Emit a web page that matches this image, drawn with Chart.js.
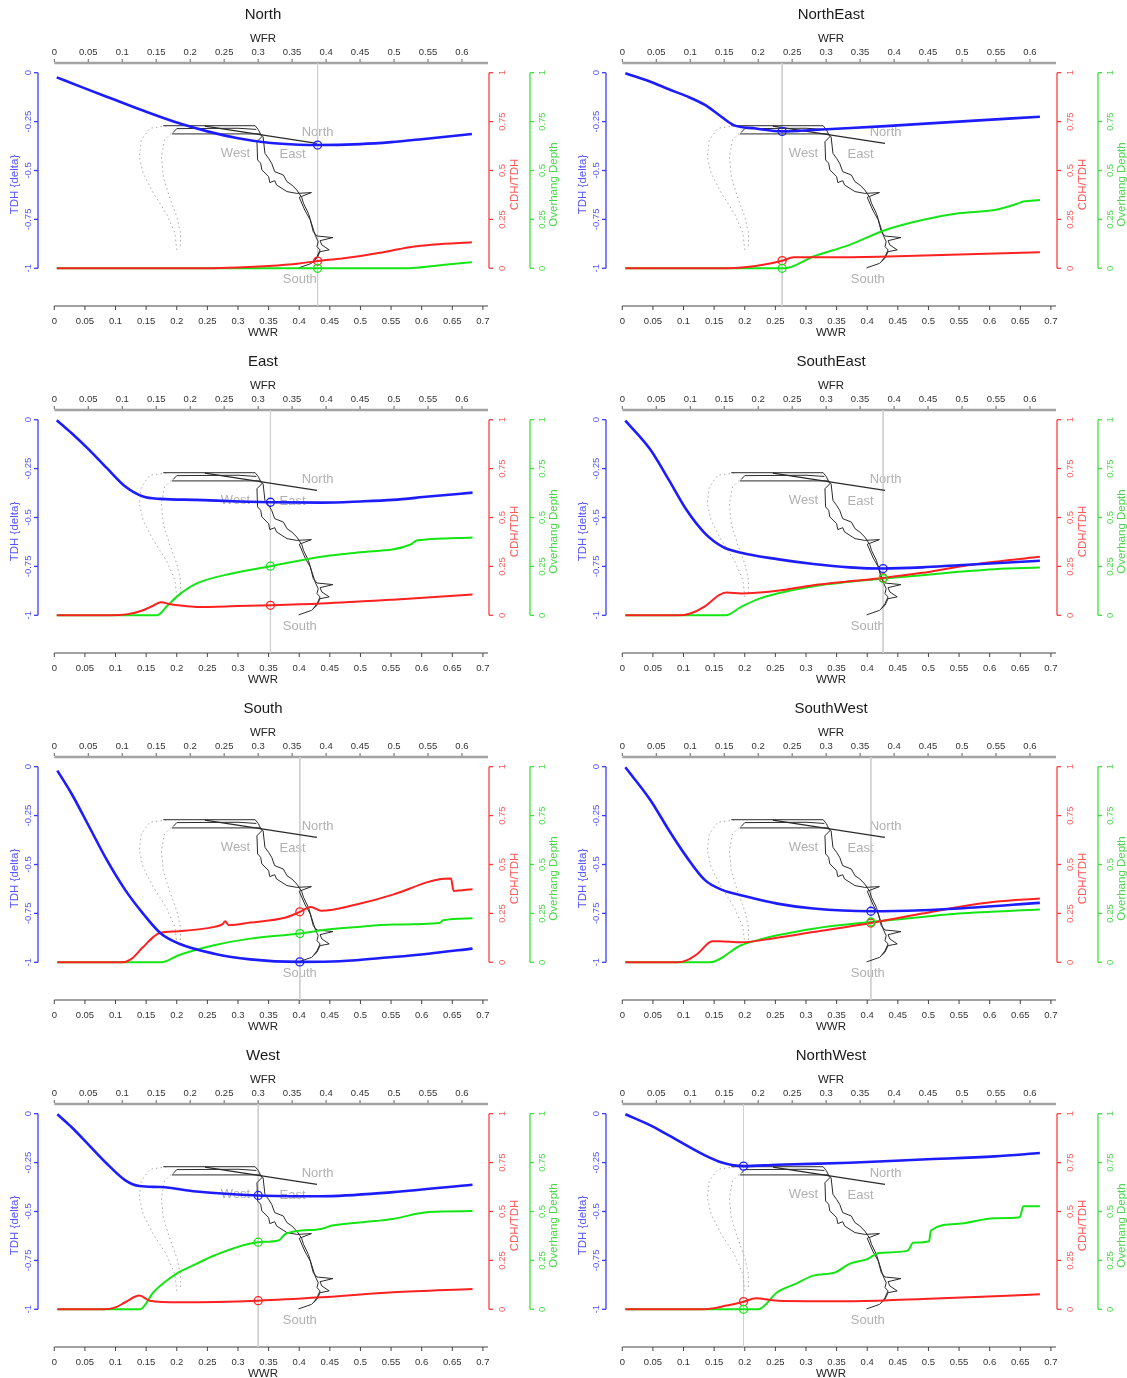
<!DOCTYPE html>
<html>
<head>
<meta charset="utf-8">
<script src="https://cdn.jsdelivr.net/npm/chart.js@4.4.0/dist/chart.umd.min.js"></script>
<style>
body { margin: 0; background: #fff; overflow: hidden; }
#wrap { position: relative; width: 1127px; height: 1378px; }
#wrap canvas { position: absolute; }
</style>
</head>
<body>
<div id="wrap"></div>
<script>
// tick values and labels
var wwrTicks = [0, 0.05, 0.1, 0.15, 0.2, 0.25, 0.3, 0.35, 0.4, 0.45, 0.5, 0.55, 0.6, 0.65, 0.7];
var wwrLabels = ['0', '0.05', '0.1', '0.15', '0.2', '0.25', '0.3', '0.35', '0.4', '0.45', '0.5', '0.55', '0.6', '0.65', '0.7'];
var wfrTicks = [0, 0.05, 0.1, 0.15, 0.2, 0.25, 0.3, 0.35, 0.4, 0.45, 0.5, 0.55, 0.6];
var wfrLabels = ['0', '0.05', '0.1', '0.15', '0.2', '0.25', '0.3', '0.35', '0.4', '0.45', '0.5', '0.55', '0.6'];
var tdhTicks = [0, -0.25, -0.5, -0.75, -1];
var tdhLabels = ['0', '-0.25', '-0.5', '-0.75', '-1'];
var ratioTicks = [0, 0.25, 0.5, 0.75, 1];
var ratioLabels = ['0', '0.25', '0.5', '0.75', '1'];

// panels
var panelNames = ['North', 'NorthEast', 'East', 'SouthEast', 'South', 'SouthWest', 'West', 'NorthWest'];
var optWwr   = [0.43, 0.261, 0.353, 0.426, 0.401, 0.406, 0.333, 0.198];
var optTdh   = [-0.37, -0.30, -0.422, -0.761, -0.998, -0.739, -0.418, -0.268];
var optCdh   = [0.037, 0.039, 0.051, 0.191, 0.258, 0.201, 0.044, 0.039];
var optDepth = [0, 0, 0.251, 0.188, 0.147, 0.206, 0.343, 0];

// TDH (blue), CDH/TDH (red), overhang depth (green) as [WWR, value]
var tdhN = [[0.004,-0.024],[0.05,-0.08],[0.1,-0.14],[0.15,-0.2],[0.2,-0.255],[0.25,-0.3],[0.3,-0.335],[0.35,-0.358],[0.4,-0.368],[0.43,-0.37],[0.5,-0.365],[0.55,-0.355],[0.6,-0.34],[0.682,-0.313]];
var cdhN = [[0.004,0],[0.25,0],[0.3,0.004],[0.35,0.012],[0.4,0.025],[0.43,0.037],[0.47,0.05],[0.5,0.063],[0.55,0.09],[0.58,0.108],[0.62,0.122],[0.682,0.133]];
var depN = [[0.004,0],[0.58,0],[0.62,0.012],[0.65,0.022],[0.682,0.031]];

var tdhNE = [[0.005,-0.003],[0.046,-0.046],[0.076,-0.085],[0.105,-0.12],[0.135,-0.165],[0.158,-0.216],[0.182,-0.268],[0.218,-0.285],[0.261,-0.3],[0.312,-0.293],[0.342,-0.288],[0.43,-0.273],[0.549,-0.25],[0.682,-0.225]];
var cdhNE = [[0.005,0],[0.17,0],[0.2,0.005],[0.23,0.018],[0.261,0.039],[0.28,0.056],[0.35,0.057],[0.45,0.062],[0.55,0.07],[0.682,0.082]];
var depNE = [[0.005,0],[0.265,0],[0.312,0.06],[0.371,0.12],[0.43,0.196],[0.49,0.247],[0.549,0.281],[0.608,0.298],[0.645,0.33],[0.655,0.341],[0.682,0.349]];

var tdhE = [[0.004,-0.003],[0.028,-0.068],[0.057,-0.154],[0.086,-0.248],[0.116,-0.342],[0.145,-0.393],[0.174,-0.405],[0.232,-0.41],[0.3,-0.418],[0.353,-0.422],[0.436,-0.424],[0.5,-0.418],[0.553,-0.41],[0.611,-0.393],[0.683,-0.373]];
var cdhE = [[0.004,0],[0.09,0],[0.12,0.006],[0.145,0.026],[0.162,0.05],[0.174,0.067],[0.19,0.056],[0.203,0.051],[0.232,0.043],[0.3,0.047],[0.353,0.051],[0.436,0.06],[0.553,0.08],[0.683,0.106]];
var depE = [[0.004,0],[0.168,0],[0.185,0.05],[0.203,0.103],[0.232,0.162],[0.29,0.214],[0.353,0.251],[0.436,0.299],[0.495,0.321],[0.582,0.362],[0.59,0.38],[0.6,0.385],[0.683,0.398]];

var tdhSE = [[0.005,-0.005],[0.046,-0.154],[0.076,-0.308],[0.105,-0.462],[0.135,-0.581],[0.164,-0.65],[0.194,-0.68],[0.253,-0.713],[0.312,-0.738],[0.371,-0.755],[0.426,-0.761],[0.49,-0.755],[0.549,-0.744],[0.682,-0.721]];
var cdhSE = [[0.005,0],[0.09,0],[0.11,0.008],[0.135,0.046],[0.158,0.103],[0.17,0.116],[0.194,0.111],[0.253,0.125],[0.312,0.154],[0.371,0.174],[0.426,0.191],[0.49,0.217],[0.549,0.248],[0.608,0.274],[0.682,0.299]];
var depSE = [[0.005,0],[0.169,0],[0.194,0.043],[0.224,0.085],[0.253,0.111],[0.312,0.149],[0.371,0.171],[0.426,0.188],[0.49,0.205],[0.549,0.222],[0.608,0.236],[0.682,0.244]];

var tdhS = [[0.005,-0.02],[0.028,-0.137],[0.057,-0.307],[0.086,-0.478],[0.116,-0.631],[0.145,-0.751],[0.174,-0.853],[0.203,-0.904],[0.261,-0.956],[0.32,-0.985],[0.401,-0.998],[0.466,-0.995],[0.553,-0.973],[0.611,-0.956],[0.683,-0.93]];
var cdhS = [[0.005,0],[0.11,0],[0.125,0.015],[0.145,0.078],[0.162,0.13],[0.172,0.15],[0.203,0.159],[0.261,0.181],[0.275,0.195],[0.279,0.21],[0.285,0.19],[0.32,0.203],[0.378,0.229],[0.401,0.258],[0.419,0.283],[0.436,0.263],[0.495,0.297],[0.553,0.346],[0.611,0.411],[0.629,0.425],[0.648,0.428],[0.652,0.365],[0.683,0.374]];
var depS = [[0.005,0],[0.175,0],[0.203,0.036],[0.261,0.087],[0.32,0.121],[0.401,0.147],[0.436,0.164],[0.495,0.181],[0.553,0.193],[0.629,0.201],[0.635,0.215],[0.683,0.225]];

var tdhSW = [[0.005,-0.003],[0.046,-0.171],[0.076,-0.324],[0.105,-0.461],[0.135,-0.58],[0.164,-0.631],[0.194,-0.657],[0.253,-0.7],[0.312,-0.725],[0.406,-0.739],[0.49,-0.734],[0.549,-0.725],[0.682,-0.696]];
var cdhSW = [[0.005,0],[0.09,0],[0.105,0.01],[0.123,0.044],[0.147,0.108],[0.158,0.108],[0.194,0.102],[0.253,0.126],[0.312,0.155],[0.406,0.201],[0.49,0.249],[0.549,0.283],[0.608,0.309],[0.682,0.326]];
var depSW = [[0.005,0],[0.143,0],[0.194,0.087],[0.224,0.116],[0.253,0.138],[0.312,0.172],[0.406,0.206],[0.49,0.232],[0.549,0.249],[0.682,0.27]];

var tdhW = [[0.005,-0.003],[0.028,-0.068],[0.057,-0.162],[0.086,-0.256],[0.116,-0.341],[0.139,-0.37],[0.174,-0.375],[0.232,-0.398],[0.333,-0.418],[0.436,-0.422],[0.553,-0.401],[0.683,-0.363]];
var cdhW = [[0.005,0],[0.08,0],[0.1,0.01],[0.116,0.036],[0.139,0.07],[0.156,0.044],[0.203,0.036],[0.333,0.044],[0.436,0.061],[0.553,0.087],[0.683,0.104]];
var depW = [[0.005,0],[0.14,0],[0.162,0.087],[0.18,0.138],[0.203,0.189],[0.232,0.232],[0.261,0.275],[0.333,0.343],[0.366,0.352],[0.378,0.386],[0.436,0.411],[0.454,0.428],[0.524,0.451],[0.553,0.462],[0.611,0.497],[0.683,0.502]];

var tdhNW = [[0.005,-0.003],[0.046,-0.06],[0.076,-0.111],[0.135,-0.213],[0.164,-0.251],[0.198,-0.268],[0.253,-0.261],[0.371,-0.251],[0.49,-0.234],[0.608,-0.218],[0.682,-0.201]];
var cdhNW = [[0.005,0],[0.13,0],[0.15,0.006],[0.17,0.019],[0.198,0.039],[0.218,0.056],[0.253,0.044],[0.371,0.041],[0.49,0.053],[0.608,0.067],[0.682,0.077]];
var depNW = [[0.005,0],[0.222,0],[0.253,0.087],[0.283,0.13],[0.312,0.172],[0.348,0.189],[0.371,0.232],[0.401,0.258],[0.419,0.288],[0.466,0.3],[0.475,0.34],[0.501,0.348],[0.504,0.403],[0.549,0.437],[0.608,0.466],[0.649,0.471],[0.655,0.527],[0.682,0.527]];

var tdhSeries = [tdhN, tdhNE, tdhE, tdhSE, tdhS, tdhSW, tdhW, tdhNW];
var cdhSeries = [cdhN, cdhNE, cdhE, cdhSE, cdhS, cdhSW, cdhW, cdhNW];
var depSeries = [depN, depNE, depE, depSE, depS, depSW, depW, depNW];

// compass outline drawn in every panel, [WWR, TDH]
var compassTop1 = [[0.178,-0.271],[0.328,-0.271],[0.333,-0.29],[0.339,-0.327]];
var compassTop2 = [[0.192,-0.313],[0.336,-0.313],[0.341,-0.327]];
var compassTop3 = [[0.194,-0.306],[0.2,-0.286],[0.3,-0.284],[0.33,-0.29]];
var compassDiag = [[0.246,-0.273],[0.429,-0.361]];
var compassLeft = [[0.339,-0.327],[0.331,-0.353],[0.332,-0.446],[0.337,-0.463],[0.339,-0.497],[0.35,-0.531],[0.352,-0.562],[0.36,-0.552],[0.363,-0.574],[0.38,-0.608],[0.396,-0.617],[0.42,-0.613],[0.4,-0.637],[0.409,-0.702],[0.418,-0.753],[0.423,-0.813],[0.429,-0.835],[0.455,-0.843],[0.434,-0.859],[0.437,-0.881],[0.449,-0.906],[0.434,-0.915],[0.429,-0.949],[0.42,-0.975],[0.399,-0.998]];
var compassRight = [[0.341,-0.327],[0.344,-0.412],[0.35,-0.438],[0.355,-0.463],[0.36,-0.506],[0.374,-0.523],[0.38,-0.557],[0.388,-0.574],[0.396,-0.6],[0.404,-0.637],[0.407,-0.668],[0.415,-0.719],[0.42,-0.77],[0.426,-0.83],[0.431,-0.864],[0.429,-0.889],[0.434,-0.906],[0.429,-0.941],[0.423,-0.966]];
var dottedOuter = [[0.183,-0.272],[0.156,-0.284],[0.142,-0.344],[0.139,-0.429],[0.145,-0.514],[0.162,-0.617],[0.183,-0.719],[0.197,-0.821],[0.2,-0.906]];
var dottedInner = [[0.191,-0.31],[0.18,-0.344],[0.175,-0.429],[0.178,-0.532],[0.188,-0.634],[0.2,-0.736],[0.206,-0.821],[0.206,-0.898]];
var compassNames = ['North', 'West', 'East', 'South'];
var compassNameX = [0.43, 0.296, 0.389, 0.401];
var compassNameY = [-0.305, -0.414, -0.419, -1.058];

// scale bounds so the axes land where the R plot put them
var X_MIN = -0.0266, X_MAX = 0.7083;
var XT_MIN = -0.024, XT_MAX = 0.6383;
var Y_MIN = -1.1928, Y_MAX = 0.0496;
var R_MIN = Y_MIN + 1, R_MAX = Y_MAX + 1;

var FONT = '"Liberation Sans", Arial, Helvetica, sans-serif';
Chart.defaults.font.family = FONT;

function seg(ctx, x1, y1, x2, y2) {
    ctx.beginPath();
    ctx.moveTo(x1, y1);
    ctx.lineTo(x2, y2);
    ctx.stroke();
}

function vtext(ctx, t, x, y) {
    ctx.save();
    ctx.translate(x, y);
    ctx.rotate(-Math.PI / 2);
    ctx.fillText(t, 0, 0);
    ctx.restore();
}

function drawYAxis(ctx, sc, x, dir, ticks, labels, lineCol, textCol, title, labOff, titleOff, midY) {
    ctx.strokeStyle = lineCol;
    ctx.lineWidth = 1.3;
    seg(ctx, x, sc.getPixelForValue(ticks[0]), x, sc.getPixelForValue(ticks[ticks.length - 1]));
    ctx.fillStyle = textCol;
    ctx.font = '9.5px ' + FONT;
    ticks.forEach(function(v, k) {
        var py = sc.getPixelForValue(v);
        seg(ctx, x, py, x + dir * 4, py);
        vtext(ctx, labels[k], x + dir * labOff, py);
    });
    ctx.font = '11.5px ' + FONT;
    vtext(ctx, title, x + dir * titleOff, midY);
}

// draws the R-style axes, titles and compass labels
var rAxes = {
    id: 'rAxes',
    beforeDatasetsDraw: function(chart, args, opts) {
        var ctx = chart.ctx, ca = chart.chartArea, s = chart.scales;
        var cx = (ca.left + ca.right) / 2, midY = (ca.top + ca.bottom) / 2;
        ctx.save();
        ctx.textAlign = 'center';
        ctx.textBaseline = 'middle';

        ctx.fillStyle = '#1a1a1a';
        ctx.font = '15px ' + FONT;
        ctx.fillText(opts.title, cx, 15);

        // top axis: WFR
        var ty = ca.top;
        ctx.strokeStyle = '#a3a3a3';
        ctx.lineWidth = 2.5;
        seg(ctx, s.xTop.getPixelForValue(0), ty, ca.right, ty);
        ctx.strokeStyle = '#666';
        ctx.lineWidth = 1;
        ctx.fillStyle = '#333';
        ctx.font = '9.5px ' + FONT;
        wfrTicks.forEach(function(v, k) {
            var px = s.xTop.getPixelForValue(v);
            seg(ctx, px, ty - 1, px, ty - 4);
            ctx.fillText(wfrLabels[k], px, ty - 11);
        });
        ctx.fillStyle = '#222';
        ctx.font = '11.5px ' + FONT;
        ctx.fillText('WFR', cx, ty - 24);

        // bottom axis: WWR
        var by = ca.bottom;
        ctx.strokeStyle = '#444';
        seg(ctx, s.x.getPixelForValue(0), by, ca.right, by);
        ctx.fillStyle = '#333';
        ctx.font = '9.5px ' + FONT;
        wwrTicks.forEach(function(v, k) {
            var px = s.x.getPixelForValue(v);
            seg(ctx, px, by, px, by + 4);
            ctx.fillText(wwrLabels[k], px, by + 15);
        });
        ctx.fillStyle = '#222';
        ctx.font = '11.5px ' + FONT;
        ctx.fillText('WWR', cx, by + 27);

        drawYAxis(ctx, s.y, ca.left, -1, tdhTicks, tdhLabels, '#3a3aff', '#5555ff', 'TDH {delta}', 10, 23, midY);
        drawYAxis(ctx, s.yRed, ca.right + 1, 1, ratioTicks, ratioLabels, '#ff3c3c', '#ff5a5a', 'CDH/TDH', 13, 26, midY);
        drawYAxis(ctx, s.yGreen, ca.right + 42, 1, ratioTicks, ratioLabels, '#3ee03e', '#4ad84a', 'Overhang Depth', 12, 24, midY);

        // compass labels
        ctx.fillStyle = '#b0b0b0';
        ctx.font = '13px ' + FONT;
        compassNames.forEach(function(t, k) {
            ctx.fillText(t, s.x.getPixelForValue(compassNameX[k]), s.y.getPixelForValue(compassNameY[k]));
        });
        ctx.restore();
    }
};

function pts(a) {
    return a.map(function(p) { return { x: p[0], y: p[1] }; });
}

function lineSet(data, axis, color, width, order, extra) {
    var d = {
        data: pts(data), xAxisID: 'x', yAxisID: axis,
        borderColor: color, borderWidth: width, pointRadius: 0,
        fill: false, order: order, tension: 0
    };
    for (var k in extra) d[k] = extra[k];
    return d;
}

function markSet(x, y, axis, color) {
    return {
        data: [{ x: x, y: y }], xAxisID: 'x', yAxisID: axis, showLine: false,
        pointRadius: 4, pointStyle: 'circle', pointBackgroundColor: 'rgba(0,0,0,0)',
        pointBorderColor: color, pointBorderWidth: 1.3, order: 0
    };
}

var wrap = document.getElementById('wrap');
var smooth = { cubicInterpolationMode: 'monotone' };

panelNames.forEach(function(name, i) {
    var col = i % 2, row = Math.floor(i / 2);
    var w = col ? 559 : 568, h = 347;
    var cv = document.createElement('canvas');
    cv.width = w; cv.height = h;
    cv.style.width = w + 'px'; cv.style.height = h + 'px';
    cv.style.left = (col * 568) + 'px';
    cv.style.top = (row * 347) + 'px';
    wrap.appendChild(cv);

    var datasets = [
        lineSet([[optWwr[i], Y_MAX], [optWwr[i], Y_MIN]], 'y', '#cfcfcf', 1, 20, {}),
        lineSet(dottedOuter, 'y', '#a8a8a8', 1, 15, { borderDash: [1.5, 3] }),
        lineSet(dottedInner, 'y', '#a8a8a8', 1, 15, { borderDash: [1.5, 3] }),
        lineSet(compassTop1, 'y', '#2a2a2a', 1, 12, {}),
        lineSet(compassTop2, 'y', '#2a2a2a', 1, 12, {}),
        lineSet(compassTop3, 'y', '#2a2a2a', 1, 12, {}),
        lineSet(compassDiag, 'y', '#2a2a2a', 1.2, 12, {}),
        lineSet(compassLeft, 'y', '#2a2a2a', 1, 12, {}),
        lineSet(compassRight, 'y', '#2a2a2a', 1, 12, {}),
        lineSet(depSeries[i], 'yGreen', '#14e614', 2, 4, smooth),
        lineSet(cdhSeries[i], 'yRed', '#ff2020', 2, 3, smooth),
        lineSet(tdhSeries[i], 'y', '#1c1cff', 2.6, 2, smooth),
        markSet(optWwr[i], optDepth[i], 'yGreen', '#14e614'),
        markSet(optWwr[i], optCdh[i], 'yRed', '#ff2020'),
        markSet(optWwr[i], optTdh[i], 'y', '#1c1cff')
    ];

    new Chart(cv, {
        type: 'line',
        data: { datasets: datasets },
        options: {
            responsive: false,
            animation: false,
            events: [],
            layout: { padding: { left: 38, right: w - 488, top: 63, bottom: 41 } },
            scales: {
                x: { type: 'linear', min: X_MIN, max: X_MAX, display: false },
                xTop: { type: 'linear', position: 'top', min: XT_MIN, max: XT_MAX, display: false },
                y: { type: 'linear', min: Y_MIN, max: Y_MAX, display: false },
                yRed: { type: 'linear', position: 'right', min: R_MIN, max: R_MAX, display: false },
                yGreen: { type: 'linear', position: 'right', min: R_MIN, max: R_MAX, display: false }
            },
            plugins: {
                legend: { display: false },
                tooltip: { enabled: false },
                rAxes: { title: name }
            }
        },
        plugins: [rAxes]
    });
});
</script>
</body>
</html>
